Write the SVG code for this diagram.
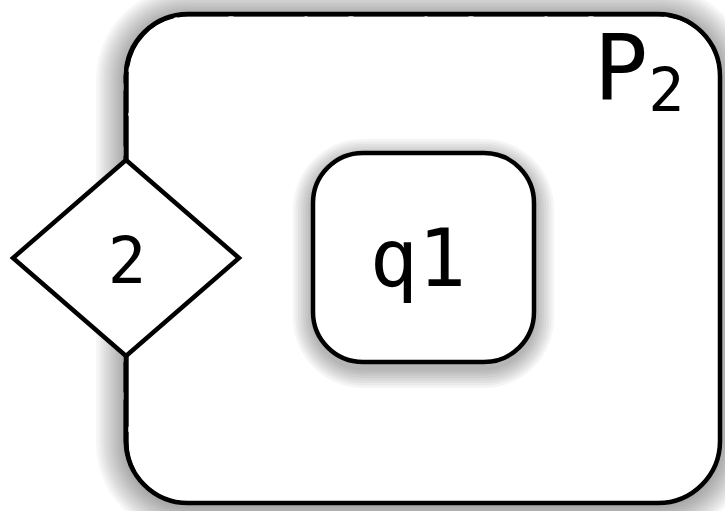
<svg xmlns="http://www.w3.org/2000/svg" width="725" height="511" viewBox="0 0 725 511">
<style>
.sk{fill:none;stroke:#000;stroke-linecap:round;}
.mono{font-family:"DejaVu Sans Mono",monospace;}
.sh1 rect{fill:#000;fill-opacity:0.03;}
.sh2 rect{fill:#000;fill-opacity:0.04;}
</style>
<rect width="725" height="511" fill="#fff"/>
<g id="P2">
<g class="sh1">
<rect x="96" y="-13" width="654" height="549" rx="92"/>
<rect x="98.5" y="-10.5" width="649" height="544" rx="89.5"/>
<rect x="101" y="-8" width="644" height="539" rx="87"/>
<rect x="103.5" y="-5.5" width="639" height="534" rx="84.5"/>
<rect x="106" y="-3" width="634" height="529" rx="82"/>
<rect x="108.5" y="-0.5" width="629" height="524" rx="79.5"/>
<rect x="111" y="2" width="624" height="519" rx="77"/>
<rect x="113.5" y="4.5" width="619" height="514" rx="74.5"/>
<rect x="116" y="7" width="614" height="509" rx="72"/>
<rect x="118.5" y="9.5" width="609" height="504" rx="69.5"/>
<rect x="121" y="12" width="604" height="499" rx="67"/>
<rect x="123.5" y="14.5" width="599" height="494" rx="64.5"/>
</g>
<rect x="126" y="14" width="594" height="489" rx="62" ry="62" fill="#fff"/>
<rect x="126" y="14" width="594" height="489" rx="62" ry="62" class="sk" stroke-width="4.5"/>
<rect x="128" y="16" width="591" height="486" rx="60" ry="60" class="sk" stroke-width="1.2" stroke-dasharray="40 6 70 4"/>
<rect x="124" y="13" width="596" height="491" rx="64" ry="64" class="sk" stroke-width="1" stroke-dasharray="30 10 55 8"/>
<text class="mono" x="594" y="100" font-size="90">P<tspan font-size="60" dy="11">2</tspan></text>
</g>
<g id="q1">
<g class="sh2">
<rect x="293" y="139" width="261" height="249" rx="70"/>
<rect x="295.5" y="141.5" width="256" height="244" rx="67.5"/>
<rect x="298" y="144" width="251" height="239" rx="65"/>
<rect x="300.5" y="146.5" width="246" height="234" rx="62.5"/>
<rect x="303" y="149" width="241" height="229" rx="60"/>
<rect x="305.5" y="151.5" width="236" height="224" rx="57.5"/>
<rect x="308" y="154" width="231" height="219" rx="55"/>
<rect x="310.5" y="156.5" width="226" height="214" rx="52.5"/>
</g>
<rect x="313" y="153" width="221" height="209" rx="50" ry="50" fill="#fff" stroke="#000" stroke-width="4.5"/>
<text class="mono" x="418" y="286" font-size="80" text-anchor="middle">q1</text>
</g>
<g id="port2">
<polygon points="126,160 239,258 126,356 13,258" fill="#fff" stroke="#000" stroke-width="4.5" stroke-linejoin="miter"/>
<text class="mono" x="127" y="283" font-size="64" text-anchor="middle">2</text>
</g>
<g id="connectors"></g>
</svg>
